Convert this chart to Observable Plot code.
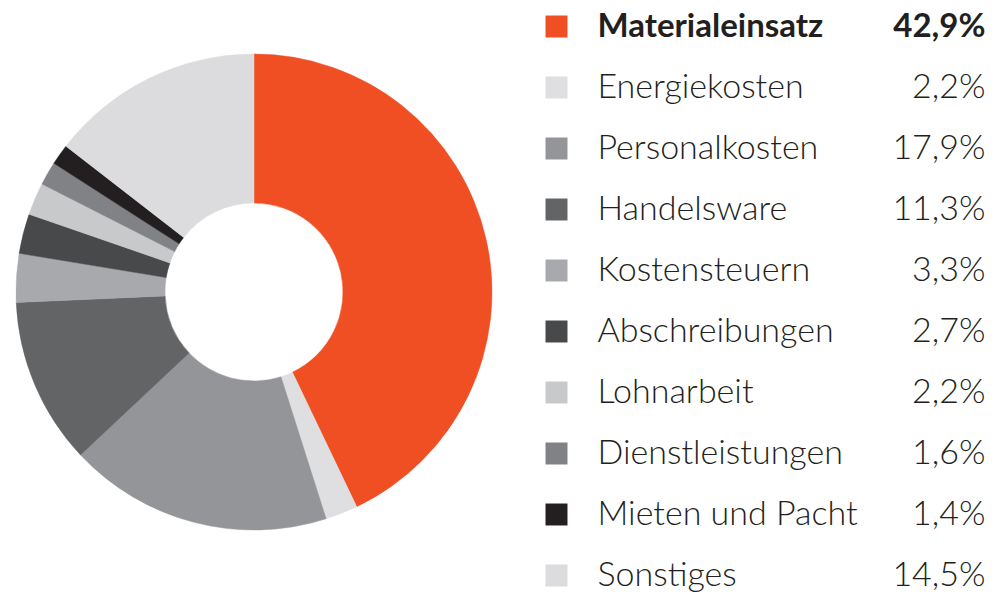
<!DOCTYPE html>
<html><head><meta charset="utf-8">
<script src="https://cdn.jsdelivr.net/npm/d3@7"></script>
<script src="https://cdn.jsdelivr.net/npm/@observablehq/plot@0.6"></script>
<style>body{margin:0;background:#fff;overflow:hidden}</style>
</head><body><div id="chart"></div>
<script>
const categories = ["Materialeinsatz","Energiekosten","Personalkosten","Handelsware","Kostensteuern","Abschreibungen","Lohnarbeit","Dienstleistungen","Mieten und Pacht","Sonstiges"];
const values = [42.9, 2.2, 17.9, 11.3, 3.3, 2.7, 2.2, 1.6, 1.4, 14.5];
const valueLabels = ["42,9%","2,2%","17,9%","11,3%","3,3%","2,7%","2,2%","1,6%","1,4%","14,5%"];
const colors = ["#f04e23","#dfdfe1","#939598","#636466","#a8a9ac","#48494b","#c8c9cb","#818285","#231f20","#dcdcde"];
const highlight = "Materialeinsatz";

const data = categories.map((c, i) => ({category: c, value: values[i], label: valueLabels[i]}));

const donut = (index, scales) => {
  const col = scales.color ?? (c => colors[categories.indexOf(c)]);
  const arcs = d3.pie().sort(null).value(d => d.value)(data);
  const arc = d3.arc().innerRadius(89).outerRadius(238);
  const g = d3.create("svg:g").attr("transform", "translate(254,292)");
  g.selectAll("path").data(arcs).join("path")
    .attr("d", arc)
    .attr("fill", d => col(d.data.category))
    .attr("stroke", d => col(d.data.category))
    .attr("stroke-width", 0.5);
  return g.node();
};

const font = "Lato, 'Open Sans', sans-serif";
const fs = 34;
const chart = Plot.plot({
  width: 1000,
  height: 601,
  margin: 0,
  style: {fontFamily: font, background: "#fff"},
  y: {type: "point", domain: categories, range: [25, 575], padding: 0, axis: null},
  color: {type: "ordinal", domain: categories, range: colors},
  marks: [
    donut,
    Plot.dot(data, {y: "category", frameAnchor: "left", dx: 556, symbol: "square", r: 12.4, fill: "category"}),
    Plot.text(data, {filter: d => d.category !== highlight, y: "category", text: "category", frameAnchor: "left", dx: 597, textAnchor: "start", fontSize: fs, fontWeight: 300, fill: "#231f20", fontFamily: font}),
    Plot.text(data, {filter: d => d.category === highlight, y: "category", text: "category", frameAnchor: "left", dx: 597, textAnchor: "start", fontSize: 33, fontWeight: "bold", fill: "#231f20", fontFamily: font}),
    Plot.text(data, {filter: d => d.category !== highlight, y: "category", text: "label", frameAnchor: "right", dx: -15, textAnchor: "end", fontSize: fs, fontWeight: 300, fill: "#231f20", fontFamily: font}),
    Plot.text(data, {filter: d => d.category === highlight, y: "category", text: "label", frameAnchor: "right", dx: -15, textAnchor: "end", fontSize: 33, fontWeight: "bold", fill: "#231f20", fontFamily: font})
  ]
});
document.getElementById("chart").append(chart);
</script>
</body></html>
